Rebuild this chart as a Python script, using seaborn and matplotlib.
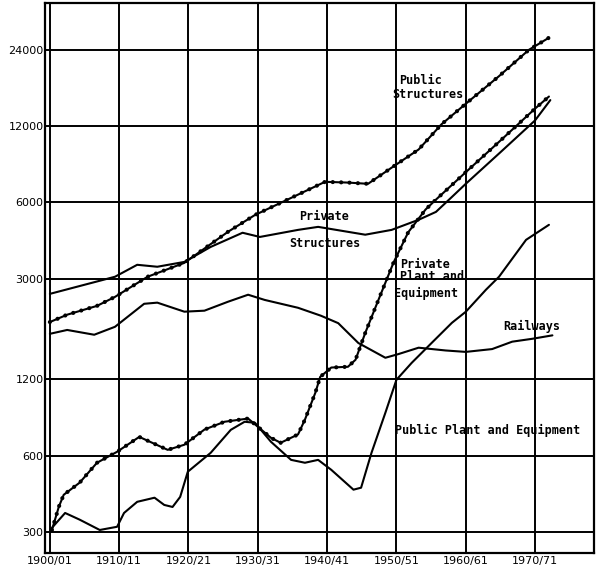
import matplotlib
matplotlib.use("Agg")
import pandas as pd
import matplotlib.pyplot as plt
import seaborn as sns
from matplotlib.ticker import FixedLocator, NullLocator

# ------------------------------------------------
# Data (log scale)
# ------------------------------------------------

pub_struct_years = [1900, 1902.5, 1906.8, 1909.4, 1914.1, 1919.4, 1925.7, 1929.6, 1933.9,
                    1939.7, 1943.0, 1945.9, 1949.8, 1953.2, 1956.5, 1960.0, 1964.8, 1969.1, 1972.0]
pub_struct_vals = [2020, 2160, 2340, 2540, 3050, 3460, 4590, 5350, 6080,
                   7230, 7180, 7100, 8400, 9700, 12200, 14700, 18900, 24000, 26800]

priv_struct_years = [1900, 1909.4, 1912.6, 1915.5, 1919.4, 1923.2, 1927.8, 1930.3, 1935.8,
                     1938.7, 1945.5, 1949.3, 1953.2, 1955.7, 1958.0, 1960.0, 1965.0, 1970.0, 1972.2]
priv_struct_vals = [2610, 3050, 3400, 3340, 3490, 4000, 4550, 4380, 4670,
                    4800, 4470, 4670, 5120, 5500, 6300, 7100, 9460, 12640, 15200]

priv_plant_years = [1900.3, 1901.3, 1902.0, 1904.3, 1906.8, 1909.7, 1912.9, 1917.0, 1919.4,
                    1922.3, 1925.2, 1928.6, 1931.9, 1933.3, 1935.8, 1936.8, 1938.3, 1939.0,
                    1940.6, 1943.0, 1944.1, 1945.5, 1947.4, 1949.6, 1951.7, 1954.2, 1955.7,
                    1960.0, 1965.0, 1970.0, 1972.0]
priv_plant_vals = [305, 377, 420, 469, 562, 621, 711, 632, 662,
                   760, 816, 840, 705, 674, 727, 832, 1062, 1227,
                   1336, 1345, 1434, 1830, 2470, 3480, 4570, 5620, 6150,
                   7890, 10520, 14070, 15700]

railway_years = [1900, 1902.5, 1906.4, 1909.4, 1913.6, 1915.5, 1919.4, 1922.3, 1925.7,
                 1928.6, 1931.0, 1935.8, 1939.1, 1941.6, 1944.5, 1948.4, 1950.3, 1953.2,
                 1957.1, 1960.0, 1963.8, 1966.7, 1969.6, 1972.5]
railway_vals = [1815, 1880, 1800, 1935, 2385, 2410, 2220, 2240, 2430,
                2590, 2470, 2300, 2140, 2000, 1670, 1460, 1510, 1600,
                1560, 1540, 1580, 1690, 1735, 1790]

pub_plant_years = [1900.3, 1902.2, 1904.3, 1907.2, 1909.7, 1910.7, 1912.6, 1915.1, 1916.5,
                   1917.7, 1918.8, 1919.9, 1923.2, 1926.1, 1928.1, 1929.6, 1931.9, 1934.8,
                   1936.8, 1938.7, 1940.6, 1943.8, 1944.9, 1946.4, 1948.4, 1950.0, 1952.2,
                   1955.1, 1958.0, 1960.0, 1962.9, 1964.8, 1968.7, 1972.0]
pub_plant_vals = [311, 356, 335, 305, 314, 356, 394, 409, 383,
                  376, 412, 518, 615, 758, 816, 808, 680, 577,
                  562, 577, 527, 440, 448, 615, 885, 1195, 1394,
                  1673, 2006, 2218, 2708, 3050, 4266, 4890]

y_ticks = [300, 600, 1200, 3000, 6000, 12000, 24000]
y_labels = ["300", "600", "1200", "3000", "6000", "12000", "24000"]
x_ticks = [1900, 1910, 1920, 1930, 1940, 1950, 1960, 1970]
x_labels = ["1900/01", "1910/11", "1920/21", "1930/31", "1940/41",
            "1950/51", "1960/61", "1970/71"]

# ------------------------------------------------
# Plot
# ------------------------------------------------

sns.set_style("white")

fig = plt.figure(figsize=(6, 5.71), dpi=100)
ax = fig.add_axes([0.075, 0.032, 0.915, 0.963])

ax.set_yscale("log")

series = [
    (pub_struct_years, pub_struct_vals, True),
    (priv_struct_years, priv_struct_vals, False),
    (priv_plant_years, priv_plant_vals, True),
    (railway_years, railway_vals, False),
    (pub_plant_years, pub_plant_vals, False),
]

for yrs, vals, dotted in series:
    d = pd.DataFrame({"year": yrs, "value": vals})
    sns.lineplot(data=d, x="year", y="value", ax=ax, color="black",
                 linewidth=1.5, sort=False, estimator=None)
    if dotted:
        # beaded look of the original
        sns.lineplot(data=d, x="year", y="value", ax=ax, color="black",
                     linewidth=3.0, sort=False, estimator=None,
                     linestyle=(0, (0.01, 2.0)), dash_capstyle="round")

ax.set_xlim(1899.3, 1978.5)
ax.set_ylim(248, 36800)

ax.yaxis.set_major_locator(FixedLocator(y_ticks))
ax.yaxis.set_minor_locator(NullLocator())
ax.set_yticklabels(y_labels)
ax.set_xticks(x_ticks)
ax.set_xticklabels(x_labels)

ax.tick_params(axis="both", length=0, labelsize=8, colors="black")
ax.tick_params(axis="y", pad=1)
ax.tick_params(axis="x", pad=2)

ax.grid(True, which="major", color="black", linewidth=1.4)
for sp in ax.spines.values():
    sp.set_color("black")
    sp.set_linewidth(1.6)

ax.set_xlabel("")
ax.set_ylabel("")

lab = dict(family="DejaVu Sans Mono", fontweight="bold", fontsize=8.5,
           color="black", ha="left", va="center")
ax.text(1950.4, 18100, "Public", **lab)
ax.text(1949.4, 15950, "Structures", **lab)
ax.text(1935.9, 5260, "Private", **lab)
ax.text(1934.6, 4115, "Structures", **lab)
ax.text(1950.5, 3400, "Private", **lab)
ax.text(1950.5, 3050, "Plant and", **lab)
ax.text(1949.6, 2612, "Equipment", **lab)
ax.text(1965.4, 1935, "Railways", **lab)
ax.text(1949.8, 752, "Public Plant and Equipment", **lab)

fig.savefig("out.png", dpi=100, facecolor="white")
